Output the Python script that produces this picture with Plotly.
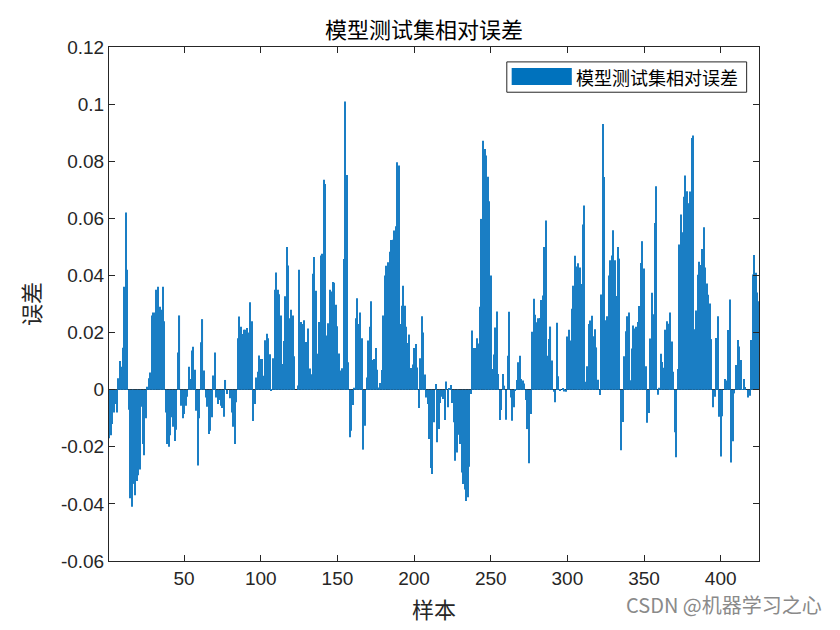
import plotly.graph_objects as go

# relative error of each test sample
relative_error = [
    -0.017, -0.016, -0.012, -0.008, -0.005, -0.008, 0.004, 0.010, 0.008, 0.0147,
    0.036, 0.062, 0.042, -0.007, -0.038, -0.041, -0.033, -0.037, -0.032, -0.030,
    -0.028, -0.006, -0.019, -0.023, -0.010, 0.001, 0.004, 0.006, 0.026, 0.027,
    0.027, 0.035, 0.036, 0.029, 0.028, 0.036, 0.024,
    -0.008, -0.019, -0.020, -0.016, -0.0097, -0.013, -0.018, -0.014, 0.013, 0.026,
    -0.0056, -0.010, -0.0085, -0.0056, -0.0025,
    0.008, 0.0037, 0.0137, 0.015, 0.007, -0.0074, -0.0266, -0.010, 0.0166, 0.0247,
    0.0067, -0.0027, -0.006, -0.0155, -0.0144, -0.0097, 0.005,
    0.013, -0.0027, -0.005, -0.0036, -0.0056, -0.0064, -0.0095, 0.0034, -0.0015, 0.0,
    -0.003, -0.008, -0.013, -0.019, -0.0044, 0.018, 0.0256, 0.022, 0.0195, 0.021,
    0.021, 0.0216, 0.020, 0.0306, 0.024, -0.011, -0.005, 0.0043, 0.0063, 0.012,
    0.0107, 0.0107, 0.0049,
    0.0173, 0.0196, 0.018, 0.0124, -0.0003, 0.011, 0.035, 0.041, 0.035, 0.0334,
    0.026, 0.009, 0.017, 0.0327, 0.050, 0.0435, 0.025, 0.028, 0.026, 0.0117,
    0.0, 0.0015, 0.042, 0.0237, 0.023, 0.0243, 0.0167, 0.0167, 0.0214, 0.0074,
    0.0054, 0.0406, 0.0465, 0.0346, 0.0126, 0.0237, 0.047, 0.0476,
    0.0735, 0.072, 0.019, 0.0233, 0.035, 0.0344, 0.0377,
    0.0374, 0.0297, 0.0222, 0.0127, 0.0067, 0.0075, 0.0458, 0.1009, 0.0752, 0.0096,
    -0.0167, -0.0144, -0.0054, 0.0007, 0.025, 0.032, 0.023, 0.027, 0.018, -0.021,
    -0.0126, 0.0043, 0.0172, 0.022, 0.031, 0.0104, 0.0107, 0.0146, 0.007, 0.0008,
    0.0023, 0.0069, 0.026, 0.040, 0.0434, 0.0446, 0.0483, 0.0524, 0.0525, 0.0557,
    0.0572, 0.0796, 0.0785,
    0.023, 0.0294, 0.0364, 0.0294, 0.022, 0.0163, 0.0193, 0.0076, 0.0088, 0.0146,
    0.016, 0.0078, -0.0064, 0.011, 0.0257, 0.020, 0.0053, -0.0027, -0.005, -0.0173,
    -0.0274, -0.0295, -0.0114, 0.002, -0.0184, -0.0138, -0.0047, -0.0025, -0.0033, -0.0106,
    0.0029, -0.0062, 0.0006, 0.0016, -0.0047, -0.0114, -0.0249, -0.022, -0.0158, -0.019,
    -0.029, -0.033,
    -0.035, -0.039, -0.0377, -0.027, -0.0015, 0.0207, 0.0146, 0.0146, 0.018, 0.0162,
    0.029, 0.0598, 0.0872, 0.0843, 0.082, 0.0746, 0.066, 0.040, 0.0072, 0.0123,
    0.0218, 0.0274, 0.0055, -0.0106, -0.0071, 0.0055, 0.0014, -0.0105, 0.0119, 0.0273,
    -0.0027, -0.0109, -0.0062, -0.0004, 0.0034, 0.0096, 0.0119, 0.0037, 0.0032, 0.0022,
    -0.0036, -0.0138, -0.0258,
    -0.0085, 0.0203, 0.0318, 0.0262, 0.0236, 0.025, 0.0251, 0.0314, 0.033, 0.050,
    0.0592, 0.0119, 0.0177, 0.0221, 0.0102, -0.0007, -0.0044, 0.0234, 0.0047, -0.0004,
    0.0, 0.0003, -0.0006, -0.0007, 0.0186, 0.021, 0.0172, 0.0283, 0.0364, 0.0469,
    0.0431, 0.0443, 0.0428, 0.037, 0.0578, 0.0645, 0.0028, 0.0082, 0.023, 0.0242,
    0.0259, 0.0187, 0.0212, 0.0148, 0.0035, -0.0019, 0.0333,
    0.093, 0.0745, 0.0243, 0.0257, 0.040, 0.0453, 0.047, 0.0558, 0.0453, 0.0328,
    0.050, 0.0459, -0.0212, -0.0113, 0.0117, 0.0205, 0.0257, 0.027, 0.0033, 0.0144,
    0.0225, 0.0214, 0.022, 0.0237, 0.0293, 0.0444, 0.052, 0.0424, 0.0082, -0.0116,
    -0.0082, 0.0179, 0.0339, 0.0264, 0.0584, 0.0712, -0.0018, 0.0007, 0.0126, 0.0097,
    0.0077, 0.021, 0.024, 0.0231, 0.027,
    0.0169, 0.0063, -0.0149, -0.0237, 0.0072, 0.0508, 0.0613, 0.0551, 0.0676, 0.075,
    0.0695, 0.0653, 0.0694, 0.0881, 0.089, 0.0212, 0.0277, 0.0402, 0.0448, 0.0437,
    0.0493, 0.0569, 0.0428, 0.0372, 0.0332, 0.0302, 0.0177, -0.0062, -0.0025, 0.0181,
    0.0257, -0.0095, -0.0234, -0.0093, 0.0, 0.0037, 0.0032, 0.0209, 0.0316, -0.0255,
    -0.0181, -0.0013, 0.0086, 0.0174, 0.0151, 0.0104, 0.0002, 0.0037, 0.0009, 0.0,
    -0.0027, -0.0021, 0.0174, 0.0403, 0.0472, 0.0409, 0.034, 0.031,
]
sample_idx = list(range(1, len(relative_error) + 1))

x_tickvals = [50, 100, 150, 200, 250, 300, 350, 400]
y_tickvals = [-0.06, -0.04, -0.02, 0, 0.02, 0.04, 0.06, 0.08, 0.1, 0.12]
y_ticktext = ["-0.06", "-0.04", "-0.02", "0", "0.02", "0.04", "0.06", "0.08", "0.1", "0.12"]

title_text = "模型测试集相对误差"
cjk = "Noto Sans CJK SC"
bar_color = "#1a7ec4"
axis_color = "#262626"

fig = go.Figure()

fig.add_trace(go.Bar(
    x=sample_idx,
    y=relative_error,
    name=title_text,
    marker=dict(color=bar_color, line=dict(width=0)),
    showlegend=False
))

axis_style = dict(
    showline=True,
    linecolor=axis_color,
    linewidth=1,
    mirror="ticks",
    ticks="inside",
    ticklen=6,
    tickcolor=axis_color,
    showgrid=False,
    tickfont=dict(family="Liberation Sans, Arial", size=19, color=axis_color),
)

# page body has an 8px margin, so the figure is a bit smaller than the window
fig.update_layout(
    width=832,
    height=622,
    margin=dict(l=101, r=81, t=39, b=69),
    paper_bgcolor="white",
    plot_bgcolor="white",
    bargap=0.3,
    title=dict(
        text=title_text,
        x=0.5, xanchor="center",
        y=0.964, yanchor="middle",
        font=dict(family=cjk, size=22, color="black")
    ),
    xaxis=dict(
        axis_style,
        range=[1, len(relative_error)],
        tickvals=x_tickvals,
        zeroline=False,
        title=dict(text="样本", font=dict(family=cjk, size=22, color=axis_color), standoff=14),
    ),
    yaxis=dict(
        axis_style,
        range=[-0.06, 0.12],
        tickvals=y_tickvals,
        ticktext=y_ticktext,
        zeroline=True,
        zerolinecolor=axis_color,
        zerolinewidth=1,
        title=dict(text="误差", font=dict(family=cjk, size=22, color=axis_color), standoff=14),
    ),
)

# MATLAB style legend box drawn by hand
fig.add_shape(type="rect", xref="paper", yref="paper",
              x0=0.612, x1=0.981, y0=0.912, y1=0.971,
              line=dict(color=axis_color, width=1), fillcolor="white")
fig.add_shape(type="rect", xref="paper", yref="paper",
              x0=0.6195, x1=0.712, y0=0.926, y1=0.959,
              line=dict(width=0), fillcolor="#0072BD")
fig.add_annotation(text=title_text, xref="paper", yref="paper",
                   x=0.716, y=0.9415, xanchor="left", yanchor="middle",
                   showarrow=False, font=dict(family=cjk, size=18, color="black"))

# watermark
fig.add_annotation(text="CSDN @机器学习之心", xref="paper", yref="paper",
                   x=1.1, y=-0.085, xanchor="right", yanchor="middle",
                   showarrow=False, font=dict(family=cjk, size=20, color="#8a8a8a"))

fig.write_html("out.html")
